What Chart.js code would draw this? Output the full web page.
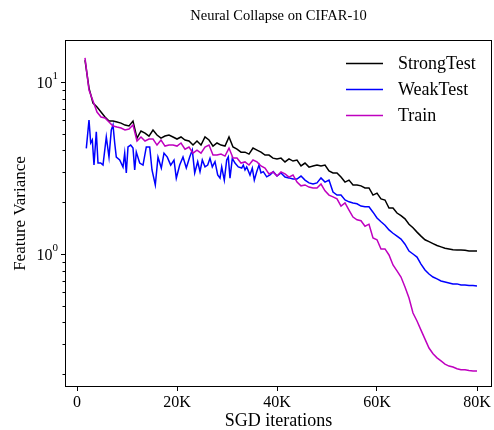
<!DOCTYPE html>
<html><head><meta charset="utf-8">
<script src="https://cdn.jsdelivr.net/npm/chart.js@4.4.0/dist/chart.umd.min.js"></script>
<style>html,body{margin:0;padding:0;background:#fff;}canvas{display:block;}</style>
</head><body>
<canvas id="c" width="494" height="430"></canvas>
<script>
const chartTitle = 'Neural Collapse on CIFAR-10';
const xAxisLabel = 'SGD iterations';
const yAxisLabel = 'Feature Variance';
const seriesNames = ['StrongTest', 'WeakTest', 'Train'];
const seriesColors = ['#000000', '#0000ff', '#bf00bf'];

// SGD iterations, in thousands (StrongTest and Train)
const iterationsK = [1.6,2.4,3.2,4.0,4.8,5.6,6.4,7.2,8.0,8.8,9.6,10.4,11.2,12.0,12.8,13.6,14.4,15.2,16.0,16.8,17.6,18.4,19.2,20.0,20.8,21.6,22.4,23.2,24.0,24.8,25.6,26.4,27.2,28.0,28.8,29.6,30.4,31.2,32.0,32.8,33.6,34.4,35.2,36.0,36.8,37.6,38.4,39.2,40.0,40.8,41.6,42.4,43.2,44.0,44.8,45.6,46.4,47.2,48.0,48.8,49.6,50.4,51.2,52.0,52.8,53.6,54.4,55.2,56.0,56.8,57.6,58.4,59.2,60.0,60.8,61.6,62.4,63.2,64.0,64.8,65.6,66.4,67.2,68.0,68.8,69.6,70.4,71.2,72.0,72.8,73.6,74.4,75.2,76.0,76.8,77.6,78.4,79.2,80.0];

const strongTest = [13.4,9.22,7.55,7.16,6.69,6.26,5.93,5.93,5.85,5.77,
5.62,5.55,5.93,4.72,5.19,5.05,4.85,5.26,4.92,4.72,
4.85,4.92,4.79,4.66,4.79,4.60,4.54,4.30,4.54,4.30,
4.79,4.60,4.24,4.42,4.30,4.24,4.79,4.19,4.07,3.91,
3.91,3.81,4.13,4.02,3.91,3.76,3.76,3.61,3.57,3.61,
3.43,3.57,3.47,3.52,3.25,3.38,3.20,3.25,3.29,3.25,
3.29,3.04,2.96,2.96,2.80,2.62,2.69,2.52,2.52,2.49,
2.42,2.42,2.20,2.26,2.09,2.06,1.85,1.85,1.73,1.67,
1.60,1.49,1.42,1.34,1.27,1.21,1.18,1.15,1.12,1.10,
1.08,1.07,1.06,1.055,1.055,1.05,1.04,1.04,1.04];

const train = [13.8,8.98,7.76,6.69,6.26,6.18,5.85,5.55,5.47,5.40,
5.26,5.33,5.62,4.54,4.79,4.54,4.66,4.66,4.30,4.60,
4.24,4.30,4.30,4.24,4.42,4.07,4.19,3.86,4.02,3.86,
4.19,4.30,3.76,3.76,3.81,3.71,4.13,3.61,3.61,3.38,
3.43,3.29,3.52,3.43,3.25,3.16,2.92,3.00,2.84,3.00,
2.92,2.80,2.88,2.62,2.49,2.52,2.45,2.42,2.42,2.55,
2.33,2.20,2.15,2.09,1.90,1.98,1.80,1.64,1.58,1.56,
1.45,1.49,1.24,1.21,1.07,1.07,0.987,0.863,0.797,0.735,
0.643,0.555,0.454,0.408,0.361,0.320,0.284,0.263,0.249,0.239,
0.229,0.223,0.220,0.215,0.212,0.212,0.210,0.209,0.209];

// WeakTest is sampled more densely in its noisy early part
const weakIterationsK = [1.86,2.4,2.74,3.06,3.4,3.86,4.2,4.74,5.2,5.86,6.4,6.86,7.2,7.54,7.86,8.54,9.2,9.54,9.86,10.2,
10.74,11.2,11.54,11.86,12.54,13.2,13.86,14.54,15.0,15.66,16.2,16.86,17.4,18.06,18.74,19.4,19.86,20.54,21.2,21.86,
22.54,23.06,23.54,24.14,24.6,25.06,25.6,26.14,26.6,27.06,27.6,28.14,28.6,28.94,29.46,29.94,30.26,30.6,31.06,31.6,
32.26,32.94,33.26,33.6,33.94,34.6,35.06,35.46,35.94,36.4,36.8,37.26,37.94,38.6,39.26,
40.0,40.8,41.6,42.4,43.2,44.0,44.8,45.6,46.4,47.2,48.0,48.8,49.6,50.4,51.2,52.0,52.8,53.6,54.4,55.2,56.0,56.8,57.6,58.4,59.2,60.0,60.8,61.6,62.4,63.2,64.0,64.8,65.6,66.4,67.2,68.0,68.8,69.6,70.4,71.2,72.0,72.8,73.6,74.4,75.2,76.0,76.8,77.6,78.4,79.2,80.0];

const weakTest = [4.11,6.01,4.42,4.60,3.29,5.14,3.38,3.38,3.29,4.79,3.66,5.26,5.62,4.42,3.66,3.52,3.20,3.86,2.96,4.19,
4.30,4.13,3.08,3.91,3.38,3.29,4.19,4.19,3.08,2.52,3.66,3.16,3.86,3.66,3.29,3.52,2.76,3.29,3.66,3.16,
3.66,4.02,2.96,3.44,3.01,3.52,3.21,3.29,3.60,3.21,3.44,2.88,2.76,3.21,2.69,3.52,3.67,2.76,3.60,3.38,
3.21,3.16,3.29,3.08,3.21,2.88,3.16,2.69,3.01,3.29,2.96,3.01,2.81,2.88,3.01,
2.84,2.96,2.80,2.77,2.73,2.73,2.84,2.69,2.59,2.55,2.59,2.77,2.62,2.69,2.29,2.20,2.20,2.06,2.01,1.98,1.96,1.90,1.88,1.88,1.75,1.62,1.54,1.47,1.38,1.32,1.27,1.22,1.14,1.04,1.00,0.96,0.874,0.807,0.765,0.735,0.716,0.697,0.688,0.679,0.670,0.670,0.660,0.660,0.656,0.656,0.652];

const xTickValues = [0, 20, 40, 60, 80];
const yMajorTicks = [1, 10];
const yMinorTicks = [0.2,0.3,0.4,0.5,0.6,0.7,0.8,0.9,2,3,4,5,6,7,8,9];

const SERIF = "'Liberation Serif', 'Times New Roman', serif";
Chart.defaults.font.family = SERIF;
Chart.defaults.color = '#000';

const seriesX = [iterationsK, weakIterationsK, iterationsK];
const seriesValues = [strongTest, weakTest, train];
const datasets = seriesValues.map((vals, i) => ({
  label: seriesNames[i],
  data: seriesX[i].map((x, j) => ({x: x, y: vals[j]})),
  borderColor: seriesColors[i],
  backgroundColor: seriesColors[i],
  borderWidth: 1.5,
  pointRadius: 0,
  tension: 0,
  fill: false,
  order: 3 - i
}));

const decor = {
  id: 'decor',
  afterDraw(chart) {
    const {ctx, chartArea: a, scales: {y}} = chart;
    ctx.save();
    ctx.strokeStyle = '#000';
    ctx.lineWidth = 1;
    const L = Math.round(a.left), T = Math.round(a.top), R = Math.round(a.right), B = Math.round(a.bottom);
    ctx.strokeRect(L + 0.5, T + 0.5, R - L - 1, B - T - 1);
    const tick = (v, len) => {
      const p = Math.round(y.getPixelForValue(v)) + 0.5;
      ctx.beginPath(); ctx.moveTo(L - len, p); ctx.lineTo(L + 0.5, p); ctx.stroke();
    };
    yMinorTicks.forEach(v => tick(v, 2.5));
    yMajorTicks.forEach(v => tick(v, 4));
    ctx.fillStyle = '#000';
    yMajorTicks.forEach(v => {
      const p = y.getPixelForValue(v);
      const exp = String(Math.round(Math.log10(v)));
      ctx.font = '11px ' + SERIF;
      const ew = ctx.measureText(exp).width;
      const right = L - 7;
      ctx.textAlign = 'left'; ctx.textBaseline = 'middle';
      ctx.fillText(exp, right - ew, p - 6);
      ctx.font = '16px ' + SERIF;
      ctx.textAlign = 'right';
      ctx.fillText('10', right - ew, p + 2);
    });
    ctx.font = '14.5px ' + SERIF;
    ctx.textAlign = 'center'; ctx.textBaseline = 'middle';
    ctx.fillText(chartTitle, (a.left + a.right) / 2, 16);
    ctx.font = '18px ' + SERIF;
    ctx.textAlign = 'left';
    chart.data.datasets.forEach((ds, i) => {
      const yy = 63.5 + 26 * i;
      ctx.strokeStyle = ds.borderColor; ctx.lineWidth = ds.borderWidth;
      ctx.beginPath(); ctx.moveTo(346, yy); ctx.lineTo(383, yy); ctx.stroke();
      ctx.fillStyle = '#000';
      ctx.fillText(ds.label, 398, yy + 1);
    });
    ctx.restore();
  }
};

new Chart(document.getElementById('c'), {
  type: 'line',
  data: { datasets },
  plugins: [decor],
  options: {
    responsive: false,
    animation: false,
    devicePixelRatio: 1,
    layout: { padding: { top: 40, right: 2, left: 0, bottom: 0 } },
    plugins: { legend: { display: false }, title: { display: false }, tooltip: { enabled: false } },
    scales: {
      x: {
        type: 'linear',
        min: -2.4, max: 83,
        afterBuildTicks: s => { s.ticks = xTickValues.map(v => ({value: v})); },
        afterFit: s => { s.height = 43; },
        ticks: {
          callback: v => v === 0 ? '0' : v + 'K',
          font: { size: 16, family: SERIF }, color: '#000', padding: 2, maxRotation: 0, autoSkip: false
        },
        grid: { display: true, drawOnChartArea: false, drawTicks: true, tickLength: 4, color: '#000', tickWidth: 1 },
        border: { display: false },
        title: { display: true, text: xAxisLabel, font: { size: 18, family: SERIF, lineHeight: 1.0 }, color: '#000', padding: { top: 0, bottom: 0 } }
      },
      y: {
        type: 'logarithmic',
        min: 0.1685, max: 17.55,
        afterFit: s => { s.width = 65; },
        ticks: { display: false },
        grid: { display: false },
        border: { display: false },
        title: { display: true, text: yAxisLabel, font: { size: 17, family: SERIF }, color: '#000', padding: { top: 10, bottom: 0 } }
      }
    }
  }
});
</script>
</body></html>
